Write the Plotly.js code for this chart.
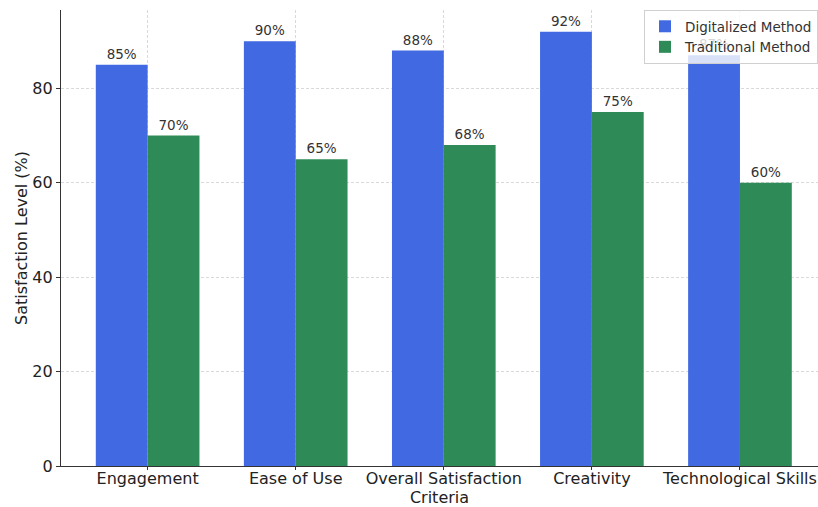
<!DOCTYPE html>
<html>
<head>
<meta charset="utf-8">
<script src="https://cdn.plot.ly/plotly-3.0.1.min.js"></script>
<style>html,body{margin:0;padding:0;background:#fff;}#chart{width:818px;height:507px;}</style>
</head>
<body>
<div id="chart"></div>
<script>
var categories = ["Engagement", "Ease of Use", "Overall Satisfaction", "Creativity", "Technological Skills"];
var digitalized = [85, 90, 88, 92, 87];
var traditional = [70, 65, 68, 75, 60];
var seriesNames = ["Digitalized Method", "Traditional Method"];
var yTicks = [0, 20, 40, 60, 80];

var xs = categories.map(function(_, i){ return i; });
function lbl(a){ return a.map(function(v){ return v + "%"; }); }

var font = "DejaVu Sans, sans-serif";
var traces = [
  {type: "bar", name: seriesNames[0], x: xs, y: digitalized, text: lbl(digitalized),
   textposition: "outside", cliponaxis: false, marker: {color: "#4169E1"},
   textfont: {family: font, size: 13.5, color: "#333"}, hoverinfo: "none"},
  {type: "bar", name: seriesNames[1], x: xs, y: traditional, text: lbl(traditional),
   textposition: "outside", cliponaxis: false, marker: {color: "#2E8B57"},
   textfont: {family: font, size: 13.5, color: "#333"}, hoverinfo: "none"}
];

var layout = {
  width: 818, height: 507,
  margin: {l: 61, r: 0, t: 10, b: 41},
  paper_bgcolor: "#fff", plot_bgcolor: "#fff",
  font: {family: font, color: "#333"},
  barmode: "group", bargap: 0.3, bargroupgap: 0,
  showlegend: true,
  legend: {x: 1, xanchor: "right", y: 1, yanchor: "top",
           bgcolor: "rgba(255,255,255,0.8)", bordercolor: "#d0d0d0", borderwidth: 1,
           font: {family: font, size: 13.5, color: "#333"}, tracegroupgap: 0},
  xaxis: {range: [-0.585, 4.527], tickmode: "array", tickvals: xs, ticktext: categories,
          tickfont: {family: font, size: 16, color: "#222"},
          showgrid: true, gridcolor: "#cfcfcf", griddash: "3px,2px", gridwidth: 0.8,
          showline: true, linecolor: "#333", linewidth: 1.2,
          ticks: "outside", ticklen: 3, tickcolor: "#333", zeroline: false,
          ticklabelstandoff: -5,
          layer: "above traces",
          title: {text: "Criteria", font: {family: font, size: 16, color: "#222"}, standoff: 0}},
  yaxis: {range: [0, 96.6], tickmode: "array", tickvals: yTicks,
          tickfont: {family: font, size: 16, color: "#222"},
          showgrid: true, gridcolor: "#cfcfcf", griddash: "3px,2px", gridwidth: 0.8,
          showline: true, linecolor: "#333", linewidth: 1.2,
          ticks: "outside", ticklen: 4, tickcolor: "#333", zeroline: false,
          layer: "above traces",
          title: {text: "Satisfaction Level (%)", font: {family: font, size: 16, color: "#222"}, standoff: 0}}
};

Plotly.newPlot("chart", traces, layout, {staticPlot: true, displayModeBar: false});
</script>
</body>
</html>
